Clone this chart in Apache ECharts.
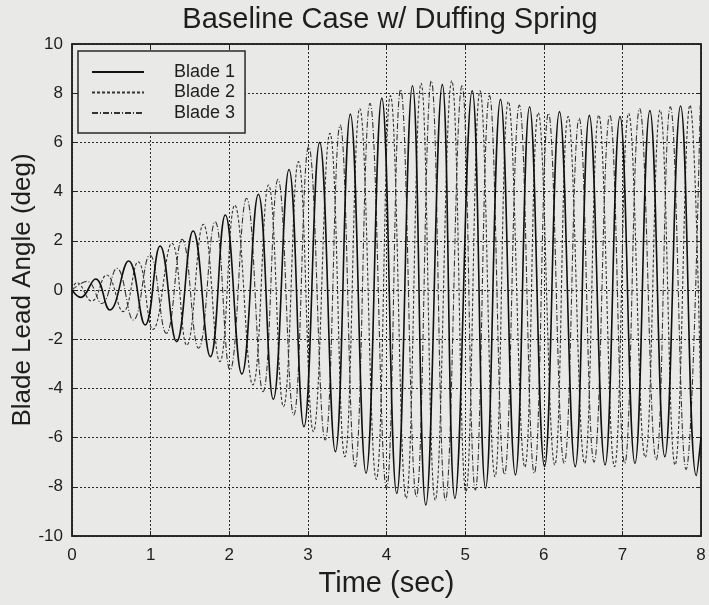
<!DOCTYPE html>
<html>
<head>
<meta charset="utf-8">
<script src="https://cdn.jsdelivr.net/npm/echarts@6/dist/echarts.min.js"></script>
<style>
html,body{margin:0;padding:0;background:#e9e9e7;}
#chart{width:709px;height:605px;}
</style>
</head>
<body>
<div id="chart"></div>
<script>
// Chart text
var chartTitle = 'Baseline Case w/ Duffing Spring';
var xAxisTitle = 'Time (sec)';
var yAxisTitle = 'Blade Lead Angle (deg)';
var seriesNames = ['Blade 1', 'Blade 2', 'Blade 3'];

// Axis ranges / ticks
var xTicks = [0, 1, 2, 3, 4, 5, 6, 7, 8];
var yTicks = [-10, -8, -6, -4, -2, 0, 2, 4, 6, 8, 10];

// Blade 1: successive extrema (time in sec, lead angle in deg)
var blade1Time  = [0, 0.11, 0.30, 0.48, 0.72, 0.93, 1.12, 1.33, 1.54, 1.76, 1.95, 2.16, 2.37, 2.56, 2.76, 2.95, 3.15, 3.35, 3.54, 3.74, 3.94, 4.13, 4.33, 4.50, 4.71, 4.87, 5.09, 5.26, 5.45, 5.64, 5.82, 6.01, 6.20, 6.40, 6.58, 6.78, 6.97, 7.16, 7.35, 7.54, 7.74, 7.94, 8.00];
var blade1Angle = [0, -0.30, 0.45, -0.81, 1.18, -1.42, 1.79, -2.10, 2.40, -2.71, 3.05, -3.41, 3.89, -4.44, 4.90, -5.56, 6.00, -6.57, 7.15, -7.45, 7.80, -8.27, 8.30, -8.74, 8.35, -8.47, 8.10, -8.06, 7.75, -7.52, 7.45, -7.18, 7.25, -7.18, 7.10, -7.11, 7.05, -7.05, 7.29, -6.78, 7.48, -7.55, -6.00];

// Blade 2
var blade2Time  = [0, 0.06, 0.25, 0.44, 0.65, 0.84, 1.03, 1.27, 1.46, 1.67, 1.88, 2.07, 2.30, 2.50, 2.69, 2.88, 3.07, 3.28, 3.47, 3.66, 3.87, 4.05, 4.25, 4.44, 4.62, 4.83, 5.01, 5.19, 5.38, 5.55, 5.76, 5.93, 6.14, 6.31, 6.52, 6.70, 6.90, 7.08, 7.29, 7.48, 7.67, 7.86, 8.00];
var blade2Angle = [0, 0.30, -0.45, 0.61, -0.88, 1.15, -1.60, 1.90, -2.24, 2.67, -2.91, 3.45, -3.86, 4.27, -4.74, 5.22, -5.76, 6.37, -6.78, 7.38, -7.70, 7.90, -8.47, 8.40, -8.54, 8.50, -8.20, 8.10, -7.59, 7.66, -7.20, 7.21, -7.11, 7.05, -7.05, 7.11, -7.18, 7.18, -6.80, 7.32, -7.11, 7.52, -5.00];

// Blade 3
var blade3Time  = [0, 0.19, 0.38, 0.57, 0.78, 0.99, 1.20, 1.40, 1.61, 1.82, 2.01, 2.22, 2.43, 2.62, 2.82, 3.01, 3.22, 3.41, 3.60, 3.79, 4.00, 4.18, 4.38, 4.57, 4.75, 4.96, 5.13, 5.31, 5.50, 5.69, 5.88, 6.06, 6.26, 6.45, 6.64, 6.84, 7.03, 7.22, 7.43, 7.61, 7.81, 7.99];
var blade3Angle = [0, 0.35, -0.55, 0.88, -1.22, 1.42, -1.76, 2.06, -2.37, 2.78, -3.25, 3.73, -4.13, 4.50, -5.08, 5.83, -6.10, 6.71, -7.18, 7.59, -8.06, 8.15, -8.40, 8.50, -8.54, 8.30, -8.13, 7.90, -7.50, 7.52, -7.45, 7.18, -7.05, 6.98, -7.00, 7.11, -7.05, 7.38, -6.90, 7.45, -7.30, 7.50];

function pairs(t, v) { return t.map(function (x, i) { return [x, v[i]]; }); }

var ink = '#1e1e1e';
var fontFam = '"Liberation Sans", Arial, sans-serif';
var xMin = xTicks[0], xMax = xTicks[xTicks.length - 1];
var yMin = yTicks[0], yMax = yTicks[yTicks.length - 1];

var chart = echarts.init(document.getElementById('chart'), null, {renderer: 'canvas'});

var gridLine = {show: true, lineStyle: {color: '#2a2a2a', type: [2, 2], width: 1}};

var option = {
  backgroundColor: '#e9e9e7',
  animation: false,
  title: {
    text: chartTitle,
    left: 385, textAlign: 'center', top: 0,
    textStyle: {fontFamily: fontFam, fontSize: 29, fontWeight: 'normal', color: ink}
  },
  legend: {
    orient: 'vertical',
    left: 78, top: 51,
    padding: [12, 10, 11, 13],
    itemGap: 2.5,
    itemWidth: 52, itemHeight: 12,
    borderColor: '#2a2a2a', borderWidth: 1.5,
    backgroundColor: '#e9e9e7',
    itemStyle: {opacity: 0},
    data: seriesNames,
    textStyle: {fontFamily: fontFam, fontSize: 18, lineHeight: 18, color: ink, padding: [0, 0, 0, 25]}
  },
  grid: {left: 72, right: 8, top: 44, bottom: 69, show: true, borderColor: '#222', borderWidth: 1.5, backgroundColor: 'transparent', containLabel: false, outerBoundsMode: 'none'},
  xAxis: [{
    type: 'value', min: xMin, max: xMax, interval: 1,
    name: xAxisTitle, nameLocation: 'middle', nameGap: 33, nameMoveOverlap: false,
    nameTextStyle: {fontFamily: fontFam, fontSize: 29, color: ink},
    axisLine: {show: true, onZero: false, lineStyle: {color: '#222', width: 1.5}},
    axisTick: {show: true, inside: true, length: 5, lineStyle: {color: '#222'}},
    axisLabel: {margin: 11, fontFamily: fontFam, fontSize: 17, color: ink},
    splitLine: gridLine
  }, {
    type: 'value', min: xMin, max: xMax, interval: 1, position: 'top',
    axisLine: {show: true, onZero: false, lineStyle: {color: '#222', width: 1.5}},
    axisTick: {show: true, inside: true, length: 5, lineStyle: {color: '#222'}},
    axisLabel: {show: false}, splitLine: {show: false}
  }],
  yAxis: [{
    type: 'value', min: yMin, max: yMax, interval: 2,
    name: yAxisTitle, nameLocation: 'middle', nameGap: 36, nameRotate: 90, nameMoveOverlap: false,
    nameTextStyle: {fontFamily: fontFam, fontSize: 26, color: ink},
    axisLine: {show: true, onZero: false, lineStyle: {color: '#222', width: 1.5}},
    axisTick: {show: true, inside: true, length: 5, lineStyle: {color: '#222'}},
    axisLabel: {margin: 9, fontFamily: fontFam, fontSize: 17, color: ink},
    splitLine: gridLine
  }, {
    type: 'value', min: yMin, max: yMax, interval: 2, position: 'right',
    axisLine: {show: true, onZero: false, lineStyle: {color: '#222', width: 1.5}},
    axisTick: {show: true, inside: true, length: 5, lineStyle: {color: '#222'}},
    axisLabel: {show: false}, splitLine: {show: false}
  }],
  series: [{
    name: seriesNames[0], type: 'line', data: pairs(blade1Time, blade1Angle),
    smooth: 0.45, symbol: 'none', clip: true,
    lineStyle: {color: '#111', width: 1.6, type: 'solid'},
    itemStyle: {color: '#111'}, z: 4
  }, {
    name: seriesNames[1], type: 'line', data: pairs(blade2Time, blade2Angle),
    smooth: 0.45, symbol: 'none', clip: true,
    lineStyle: {color: '#333', width: 1.1, type: [3, 2]},
    itemStyle: {color: '#333'}, z: 3
  }, {
    name: seriesNames[2], type: 'line', data: pairs(blade3Time, blade3Angle),
    smooth: 0.45, symbol: 'none', clip: true,
    lineStyle: {color: '#333', width: 1.1, type: [6, 2, 1, 2]},
    itemStyle: {color: '#333'}, z: 3
  }]
};
chart.setOption(option);
</script>
</body>
</html>
